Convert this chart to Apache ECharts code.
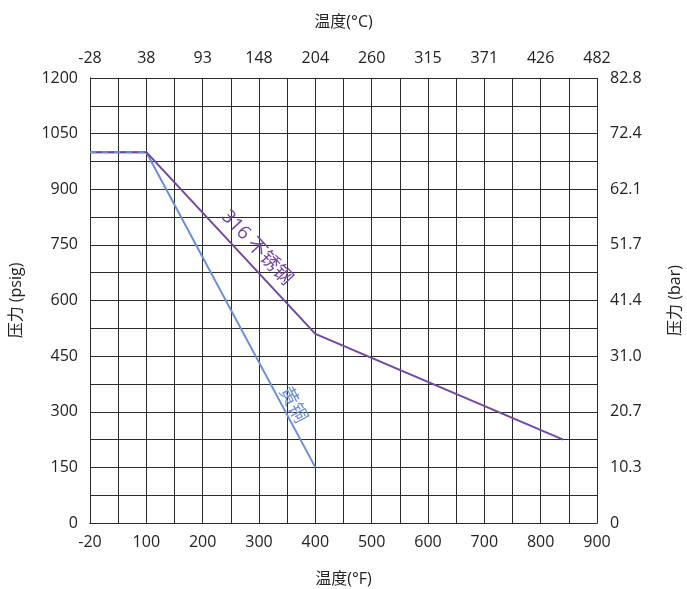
<!DOCTYPE html>
<html><head><meta charset="utf-8">
<script src="https://cdn.jsdelivr.net/npm/echarts@6/dist/echarts.min.js"></script>
<style>html,body{margin:0;padding:0;background:#fff;overflow:hidden}#c{width:687px;height:589px}</style>
</head><body><div id="c"></div>
<script>
// Tick labels
var fLabels = ['-20','100','200','300','400','500','600','700','800','900'];
var cLabels = ['-28','38','93','148','204','260','315','371','426','482'];
var psiLabels = ['0','150','300','450','600','750','900','1050','1200'];
var barLabels = ['0','10.3','20.7','31.0','41.4','51.7','62.1','72.4','82.8'];
// Series values (temperature °F, pressure psig)
var ssTemps = [-20, 100, 400, 840];
var ssPress = [1000, 1000, 510, 225];
var brassTemps = [-20, 100, 400];
var brassPress = [1000, 1000, 150];

// the first axis interval spans -20..100 °F, the rest are 100 °F each
function axisPos(t){ return t < 100 ? (t + 20) * 100 / 120 : t; }
function pts(ts, ps){ return ts.map(function(t,i){ return [axisPos(t), ps[i]]; }); }

var FONT = '"Open Sans", "Noto Sans CJK SC", sans-serif';
var TXT = '#222';
var GRIDC = '#2a2a2a';
var SS = '#7247a2';
var BR = '#6a8fd6';

function fLab(v){ return (v % 100 === 0) ? fLabels[v/100] : ''; }
function cLab(v){ return (v % 100 === 0) ? cLabels[v/100] : ''; }
function pLab(v){ return (v % 150 === 0) ? psiLabels[v/150] : ''; }
function bLab(v){ return (v % 150 === 0) ? barLabels[v/150] : ''; }

var labelStyle = {color: TXT, fontSize: 16, fontFamily: FONT};
var nameStyle = {color: TXT, fontSize: 16, fontFamily: FONT};

var chart = echarts.init(document.getElementById('c'), null, {renderer: 'canvas'});
chart.setOption({
  animation: false,
  backgroundColor: '#fff',
  grid: {left: 90, right: 90, top: 78, bottom: 66, containLabel: false, outerBoundsMode: 'none'},
  xAxis: [{
    type: 'value', position: 'bottom', min: 0, max: 900, interval: 50,
    name: '温度(°F)', nameLocation: 'middle', nameGap: 48, nameTextStyle: nameStyle,
    axisLine: {show: true, lineStyle: {color: GRIDC, width: 1}},
    axisTick: {show: false},
    axisLabel: Object.assign({formatter: fLab, margin: 11, showMinLabel: true, showMaxLabel: true}, labelStyle),
    splitLine: {show: true, lineStyle: {color: GRIDC, width: 1}}
  }, {
    type: 'value', position: 'top', min: 0, max: 900, interval: 50,
    name: '温度(°C)', nameLocation: 'middle', nameGap: 48, nameTextStyle: nameStyle,
    axisLine: {show: true, lineStyle: {color: GRIDC, width: 1}},
    axisTick: {show: false},
    axisLabel: Object.assign({formatter: cLab, margin: 12, showMinLabel: true, showMaxLabel: true}, labelStyle),
    splitLine: {show: false}
  }],
  yAxis: [{
    type: 'value', position: 'left', min: 0, max: 1200, interval: 75,
    name: '压力 (psig)', nameLocation: 'middle', nameGap: 66, nameRotate: 90, nameTextStyle: nameStyle,
    axisLine: {show: true, lineStyle: {color: GRIDC, width: 1}},
    axisTick: {show: false},
    axisLabel: Object.assign({formatter: pLab, margin: 12}, labelStyle),
    splitLine: {show: true, lineStyle: {color: GRIDC, width: 1}}
  }, {
    type: 'value', position: 'right', min: 0, max: 1200, interval: 75,
    name: '压力 (bar)', nameLocation: 'middle', nameGap: 70, nameRotate: 90, nameTextStyle: nameStyle,
    axisLine: {show: true, lineStyle: {color: GRIDC, width: 1}},
    axisTick: {show: false},
    axisLabel: Object.assign({formatter: bLab, margin: 13}, labelStyle),
    splitLine: {show: false}
  }],
  series: [{
    name: '黄铜', type: 'line', data: pts(brassTemps, brassPress),
    symbol: 'none', lineStyle: {color: BR, width: 2},
    markPoint: {
      symbol: 'circle', symbolSize: 1, itemStyle: {color: 'rgba(0,0,0,0)'},
      label: {show: true, position: 'inside', formatter: '黄铜', rotate: -62, color: BR, fontSize: 19, fontFamily: FONT},
      data: [{coord: [360, 318]}]
    }
  }, {
    name: '316 不锈钢', type: 'line', data: pts(ssTemps, ssPress),
    symbol: 'none', lineStyle: {color: SS, width: 2},
    markPoint: {
      symbol: 'circle', symbolSize: 1, itemStyle: {color: 'rgba(0,0,0,0)'},
      label: {show: true, position: 'inside', formatter: '316 不锈钢', rotate: -47, color: SS, fontSize: 19, fontFamily: FONT},
      data: [{coord: [296, 742]}]
    }
  }, {
    name: 'overlap', type: 'line', data: pts(brassTemps.slice(0,2), brassPress.slice(0,2)),
    symbol: 'none', lineStyle: {color: BR, width: 2, type: [6, 6]}, silent: true
  }]
});
</script></body></html>
